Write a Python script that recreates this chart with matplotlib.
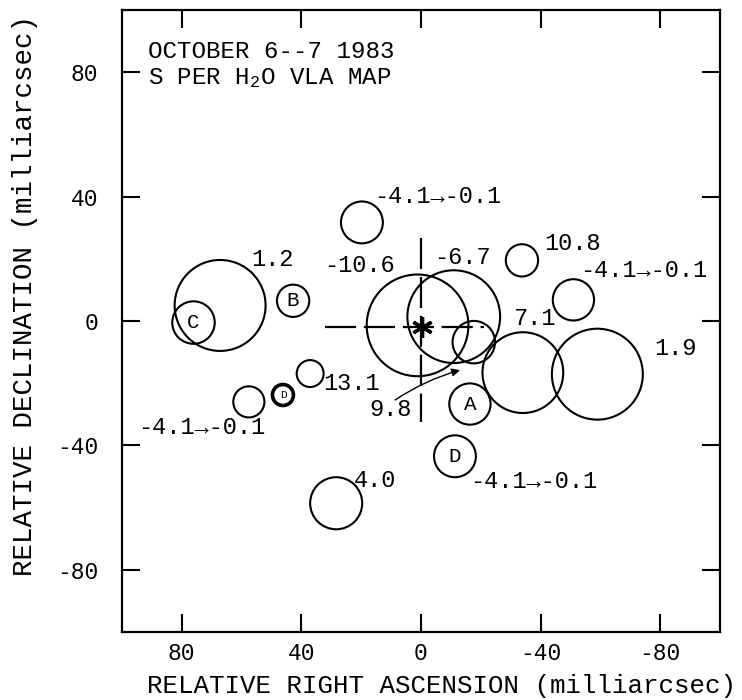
import matplotlib
matplotlib.use("Agg")
import matplotlib.pyplot as plt
from matplotlib.patches import Ellipse

plt.rcParams['font.family'] = ['Liberation Mono', 'DejaVu Sans Mono']
plt.rcParams['axes.unicode_minus'] = False
plt.rcParams['mathtext.fontset'] = 'custom'
plt.rcParams['mathtext.rm'] = 'Liberation Mono'
plt.rcParams['mathtext.default'] = 'regular'

# maser spots: RA offset, Dec offset, radius (milliarcsec)
spot_ra = [67.1, 76.0, 42.7, 19.7, 1.1, -11.0, -17.7, -33.8, -51.0,
           -34.1, -59.0, -16.4, 37.0, 46.1, 57.5, -11.4, 28.3]
spot_dec = [5.0, -0.5, 6.5, 31.7, -1.4, 1.4, -6.8, 19.5, 6.8,
            -16.6, -17.1, -26.7, -16.9, -23.8, -26.0, -43.5, -58.6]
spot_r = [15.2, 7.1, 5.4, 7.0, 17.0, 15.5, 7.1, 5.4, 6.9,
          13.5, 15.2, 6.9, 4.5, 3.5, 5.2, 7.0, 8.7]
spot_lw = [1.5] * 13 + [2.6] + [1.5] * 3

# velocity labels
vel_text = ['1.2', '-10.6', '-6.7', '10.8', '-4.1\u2192-0.1', '7.1', '1.9',
            '13.1', '-4.1\u2192-0.1', '-4.1\u2192-0.1', '-4.1\u2192-0.1', '4.0',
            '9.8']
vel_ra = [49.6, 20.6, -13.8, -50.6, -74.4, -37.9, -85.0,
          23.2, 73.1, -5.6, -37.6, 15.2, 10.1]
vel_dec = [19.9, 17.8, 20.3, 25.0, 16.1, 0.7, -8.8,
           -20.2, -34.2, 40.0, -51.7, -51.4, -28.6]

# pointer from the 9.8 label to its spot
ptr_from = (8.6, -25.4)
ptr_to = (-13.1, -15.8)

# feature letters inside circles
feat_text = ['C', 'B', 'A', 'D', 'D']
feat_ra = [76.0, 42.7, -16.4, -11.4, 46.1]
feat_dec = [-0.5, 6.5, -26.7, -43.5, -23.8]
feat_size = [15, 15, 15, 15, 8]

ticks = [80, 40, 0, -40, -80]

fig = plt.figure(figsize=(7.42, 7.0), dpi=100)
ax = fig.add_axes([121.7 / 742, 68 / 700, (720 - 121.7) / 742, (632 - 10) / 700])
ax.set_xlim(100, -100)
ax.set_ylim(-100, 100)

# circles are round on the page, so correct for the unequal axis scales
sx = ax.get_position().width * 742 / 200
sy = ax.get_position().height * 700 / 200
for x, y, r, lw in zip(spot_ra, spot_dec, spot_r, spot_lw):
    ax.add_patch(Ellipse((x, y), 2 * r, 2 * r * sx / sy, fill=False,
                         edgecolor='black', lw=lw))

# reference cross
ax.plot([32.2, -21.0], [-1.8, -1.8], color='black', lw=1.6,
        linestyle=(0, (14, 3.5)))
ax.plot([0, 0], [26.6, -32.4], color='black', lw=1.6,
        linestyle=(0, (14, 3.5)))
ax.plot([-0.3], [-1.8], marker=(6, 2, 0), markersize=15, mew=2.4,
        color='black')

for t, x, y in zip(vel_text, vel_ra, vel_dec):
    ax.text(x, y, t, ha='center', va='center', fontsize=17)
for t, x, y, s in zip(feat_text, feat_ra, feat_dec, feat_size):
    ax.text(x, y, t, ha='center', va='center', fontsize=s)

ax.annotate('', xy=ptr_to, xytext=ptr_from,
            arrowprops=dict(arrowstyle='-|>', lw=1.0, color='black',
                            shrinkA=0, shrinkB=0, mutation_scale=12,
                            connectionstyle='arc3,rad=-0.08'))

ax.text(91.1, 86.7, 'OCTOBER 6--7 1983', ha='left', va='center', fontsize=17.4)
ax.text(91.1, 78.2, 'S PER H$_2$O VLA MAP', ha='left', va='center', fontsize=17.4)

ax.set_xticks(ticks)
ax.set_yticks(ticks)
ax.set_xticklabels([str(t) for t in ticks])
ax.set_yticklabels([str(t) for t in ticks])
ax.tick_params(direction='in', length=13, width=1.5, top=True, right=True,
               labelsize=16.5)
ax.tick_params(axis='x', pad=7)
ax.tick_params(axis='y', pad=17)
for sp in ax.spines.values():
    sp.set_linewidth(1.6)

fig.text(441.7 / 742, 1 - 685.5 / 700, 'RELATIVE RIGHT ASCENSION (milliarcsec)',
         ha='center', va='center', fontsize=18.6)
fig.text(25 / 742, 1 - 295 / 700, 'RELATIVE DECLINATION (milliarcsec)',
         ha='center', va='center', rotation=90, fontsize=19.8)

fig.savefig('out.png', dpi=100)
